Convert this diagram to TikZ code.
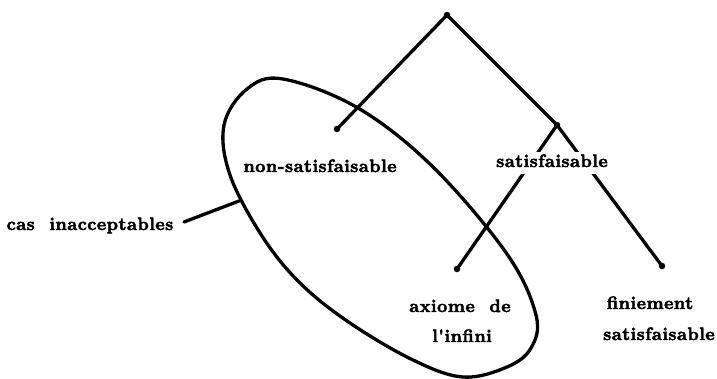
\documentclass[tikz,border=0pt]{standalone}
\usepackage{fontspec}
\newfontfamily\lbl{lmroman10-bold}[Extension=.otf, LetterSpace=2, FakeBold=2.5]
\begin{document}
\begin{tikzpicture}[x=1pt,y=-1pt,
  line/.style={line width=3.3pt, line cap=round},
  dot/.style={circle, fill=black, inner sep=0pt, minimum size=6.5pt},
  lab/.style={font=\lbl\fontsize{18}{20}\selectfont, inner sep=0pt, anchor=base}]
\useasboundingbox (0,0) rectangle (717,378);
% tree nodes
\node[dot] (root) at (447,15) {};
\node[dot] (L) at (337,129) {};
\node[dot] (R) at (557,125) {};
\node[dot] (RL) at (457,269) {};
\node[dot] (RR) at (662,266) {};
\draw[line] (root.center) -- (L.center);
\draw[line] (root.center) -- (R.center);
\draw[line] (R.center) -- (RL.center);
\draw[line] (R.center) -- (RR.center);
% ellipse (hand drawn)
\draw[line] plot[smooth cycle, tension=0.6] coordinates {
 (283,79) (358,108) (433,167) (507,254) (536,315) (531,348) (507,367)
 (463,377) (413,360) (350,323) (300,283) (262,236) (230,175) (224,125) (247,89)};
\coordinate (e1) at (239,201);
\coordinate (c1) at (184,222);
% labels
\node[lab] (ns) at (320,172) {non-satisfaisable};
\node[lab, fill=white, inner xsep=1pt, text height=15pt, text depth=7pt] (s) at (552,167) {satisfaisable};
\node[lab] (cas) at (90,230) {cas\ \ inacceptables};
\node[lab] (ax) at (460,312) {axiome\ \ de};
\node[lab] (inf) at (462,342) {l'infini};
\node[lab] (fin) at (650,309) {finiement};
\node[lab] (fs) at (659,340) {satisfaisable};
\draw[line] (c1) -- (e1);
\end{tikzpicture}
\end{document}
